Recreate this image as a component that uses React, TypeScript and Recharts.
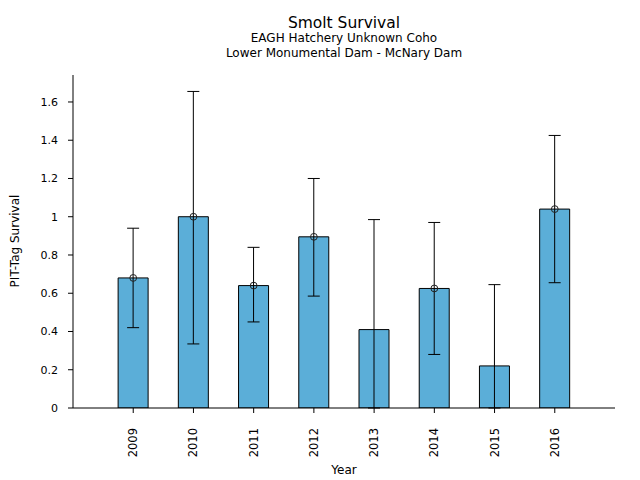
import React from "react";
import { ComposedChart, Bar, ErrorBar, Scatter, XAxis, YAxis } from "recharts";

const years = [2009, 2010, 2011, 2012, 2013, 2014, 2015, 2016];
const survival = [0.68, 1.0, 0.64, 0.895, 0.41, 0.625, 0.22, 1.04];
const lowerBound = [0.42, 0.335, 0.45, 0.585, 0, 0.28, 0, 0.655];
const upperBound = [0.94, 1.655, 0.84, 1.2, 0.985, 0.97, 0.645, 1.425];
// years that show the open-circle marker
const markerYears = [2009, 2010, 2011, 2012, 2014, 2016];
const yTicks = [0, 0.2, 0.4, 0.6, 0.8, 1, 1.2, 1.4, 1.6];

const data = years.map((year, i) => ({
  year,
  value: survival[i],
  err: [survival[i] - lowerBound[i], upperBound[i] - survival[i]],
}));

const markers = data.filter((d) => markerYears.includes(d.year));

const FONT = "DejaVu Sans, sans-serif";

const YearTick = (props: any) => {
  const { x, y, payload } = props;
  return (
    <text
      x={x}
      y={y + 13}
      transform={`rotate(-90, ${x}, ${y + 13})`}
      textAnchor="end"
      dy="0.35em"
      fontSize={11.5}
      fontFamily={FONT}
      fill="#000"
    >
      {payload.value}
    </text>
  );
};

const Marker = (props: any) => (
  <circle cx={props.cx} cy={props.cy} r={3.4} fill="none" stroke="#222" strokeWidth={1} />
);

export default function App() {
  return (
    <div style={{ position: "absolute", left: 0, top: 0, width: 640, height: 480, background: "#fff", fontFamily: FONT }}>
      <div style={{ position: "absolute", left: 73, width: 542, top: 14, textAlign: "center", fontSize: 15.5, lineHeight: "18px" }}>
        Smolt Survival
      </div>
      <div style={{ position: "absolute", left: 73, width: 542, top: 31, textAlign: "center", fontSize: 12, lineHeight: "14.5px" }}>
        EAGH Hatchery Unknown Coho
        <br />
        Lower Monumental Dam - McNary Dam
      </div>
      <div
        style={{
          position: "absolute",
          left: 15,
          top: 241,
          transform: "translate(-50%, -50%) rotate(-90deg)",
          fontSize: 12,
          whiteSpace: "nowrap",
        }}
      >
        PIT-Tag Survival
      </div>
      <div style={{ position: "absolute", left: 73, width: 542, top: 463, textAlign: "center", fontSize: 12 }}>
        Year
      </div>
      <div style={{ position: "absolute", left: 0, top: 0 }}>
        <ComposedChart width={640} height={480} data={data} margin={{ top: 75, right: 25, bottom: 0, left: 1 }}>
          <XAxis
            dataKey="year"
            type="number"
            domain={[2008, 2017]}
            ticks={years}
            allowDataOverflow
            height={72}
            tickSize={5}
            tick={<YearTick />}
            stroke="#000"
            interval={0}
          />
          <YAxis
            type="number"
            domain={[0, 1.741]}
            ticks={yTicks}
            allowDataOverflow
            width={72}
            tickSize={5}
            tickMargin={10}
            tickFormatter={(v: number) => String(+v.toFixed(1))}
            tick={{ fontSize: 11, fontFamily: FONT, fill: "#000" }}
            stroke="#000"
          />
          <Bar dataKey="value" barSize={30} fill="#5BAED8" stroke="#000" strokeWidth={1} isAnimationActive={false}>
            <ErrorBar dataKey="err" direction="y" width={6} stroke="#000" strokeWidth={1} />
          </Bar>
          <Scatter data={markers} dataKey="value" shape={<Marker />} isAnimationActive={false} />
        </ComposedChart>
      </div>
    </div>
  );
}
